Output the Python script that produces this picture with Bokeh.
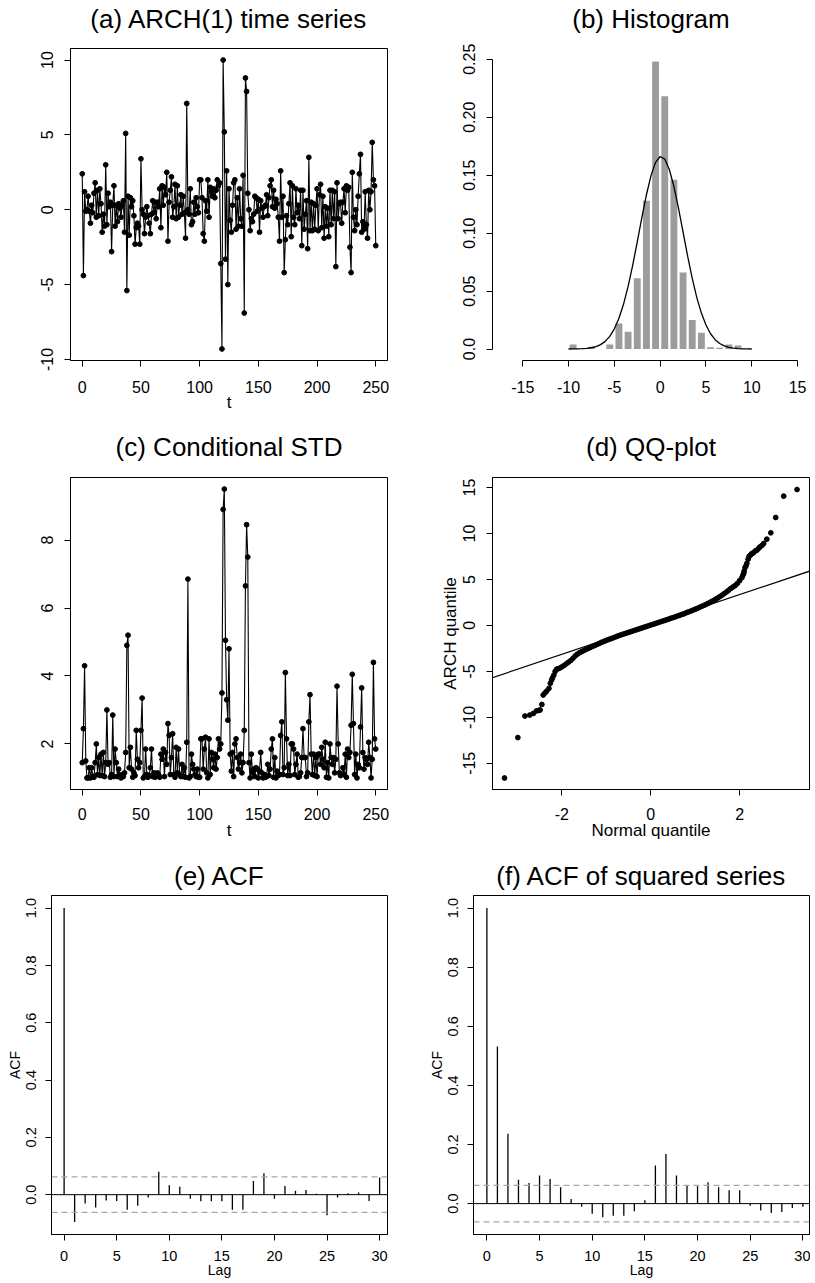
import numpy as np
from bokeh.plotting import figure
from bokeh.layouts import column, row
from bokeh.models import FixedTicker, Range1d, Span, Slope, LinearAxis
from bokeh.embed import file_html
from bokeh.resources import INLINE

FONT = "Liberation Sans"

# ---------------- data ----------------
t_index = list(range(0, 251))

arch_series = [
    2.4, -4.4, 1.2, -0.1, 0.0, 0.9, -0.1, -0.9, 0.3, -0.2,
    1.1, 1.8, -0.5, 1.3, -0.4, 1.4, 0.4, -1.5, -0.3, -1.1,
    3.0, -1.0, 1.1, 0.2, 0.5, -2.8, 0.3, 1.6, -1.1, 0.3,
    -0.8, 0.4, 0.1, -0.5, 0.3, 0.6, -1.5, 5.1, -5.4, 0.9,
    -1.7, 0.8, 0.2, 0.6, -0.4, -2.3, -1.2, -0.9, -1.1, -2.3,
    3.4, 0.0, -0.3, -1.6, -0.5, 0.2, -0.4, -0.9, -1.6, -0.3,
    0.6, -0.2, 0.5, -0.6, 0.5, 0.2, 1.4, -1.2, 1.6, 0.3,
    1.5, 1.0, 2.5, -2.1, 0.5, 1.3, 2.2, -0.5, 0.2, 1.7,
    -0.6, 1.6, -0.5, 0.3, 1.0, -0.3, 0.9, -0.2, -1.9, 7.1,
    0.0, -0.3, 1.4, -1.0, -0.8, 0.5, -0.3, 0.8, 0.2, -0.2,
    2.0, 2.0, 0.8, -1.6, -2.1, 0.6, -0.1, 2.0, -0.5, 1.5,
    1.2, 0.9, 1.4, 0.8, 1.3, 2.0, 1.6, 1.8, -3.6, -9.3,
    10.0, 5.2, -3.3, 2.6, -5.0, 1.4, -0.7, -1.5, 0.3, 1.8,
    2.0, -1.3, 0.8, -1.1, 1.4, -0.6, -1.1, 2.3, -6.9, 8.8,
    7.9, 1.1, 0.0, -1.4, -0.6, -0.8, -0.3, 0.9, 0.8, -0.1,
    0.7, -1.5, 0.6, 0.1, -0.5, 0.2, 0.3, 1.0, -0.4, 0.8,
    1.6, 2.0, 0.2, 1.3, 0.1, 0.7, 0.4, -0.5, -2.1, 2.6,
    -0.5, 0.9, -4.2, -2.0, -0.4, -1.0, 0.4, 1.8, -1.8, 1.6,
    -0.5, -1.0, 1.4, -0.2, 0.3, -0.6, 1.3, -2.4, 1.3, -1.3,
    -0.3, 0.6, -2.6, 3.5, -1.4, 0.5, -1.4, 0.4, -1.3, 0.3,
    1.4, -1.4, 1.0, 1.7, -1.2, 0.9, -1.9, 0.2, -1.1, 0.1,
    -1.8, 1.3, -1.0, 1.3, -0.6, 1.2, -3.8, 1.8, -0.6, 0.4,
    0.5, -0.9, 0.5, 1.4, -0.2, 1.6, 1.3, 1.5, -2.5, -4.2,
    2.5, -0.5, -1.4, 0.0, -1.0, 0.9, 2.4, 3.7, -1.5, -0.8,
    -1.3, 1.2, -1.0, -1.9, 1.3, 0.0, 1.2, 4.5, 2.0, 1.6,
    -2.4,
]

cond_std = [
    1.45, 2.45, 4.3, 1.5, 1.0, 1.0, 1.3, 1.0, 1.3, 1.05,
    1.02, 1.45, 2.0, 1.1, 1.6, 1.07, 1.7, 1.07, 1.75, 1.04,
    1.45, 3.0, 1.4, 1.45, 1.02, 1.1, 2.85, 1.04, 1.85, 1.45,
    1.04, 1.26, 1.07, 1.0, 1.1, 1.04, 1.15, 1.75, 4.9, 5.2,
    1.3, 1.9, 1.26, 1.02, 1.15, 1.07, 2.4, 1.55, 1.3, 1.45,
    2.4, 3.35, 1.0, 1.04, 1.85, 1.1, 1.02, 1.07, 1.3, 1.85,
    1.04, 1.15, 1.02, 1.1, 1.15, 1.1, 1.02, 1.7, 1.55, 1.85,
    1.04, 1.75, 1.4, 2.6, 2.25, 1.1, 1.6, 2.3, 1.1, 1.02,
    1.9, 1.15, 1.85, 1.1, 1.04, 1.4, 1.04, 1.3, 1.02, 2.05,
    6.85, 1.0, 1.04, 1.7, 1.4, 1.26, 1.1, 1.04, 1.26, 1.02,
    1.02, 2.15, 2.15, 1.26, 1.85, 2.2, 1.15, 1.0, 2.15, 1.1,
    1.75, 1.55, 1.3, 1.7, 1.26, 1.6, 2.15, 1.85, 2.0, 3.5,
    8.9, 9.5, 5.05, 3.3, 2.7, 4.8, 1.7, 1.2, 1.75, 1.04,
    2.0, 2.15, 1.6, 1.26, 1.45, 1.7, 1.15, 1.45, 2.4, 6.65,
    8.45, 7.5, 1.45, 1.0, 1.7, 1.15, 1.26, 1.04, 1.3, 1.26,
    1.0, 1.2, 1.75, 1.15, 1.0, 1.1, 1.02, 1.04, 1.4, 1.07,
    1.26, 1.85, 2.15, 1.02, 1.6, 1.0, 1.2, 1.07, 1.1, 2.25,
    2.65, 1.1, 1.3, 4.1, 2.15, 1.07, 1.4, 1.07, 2.0, 2.0,
    1.85, 1.1, 1.4, 1.7, 1.02, 1.04, 1.15, 1.6, 2.45, 1.6,
    1.6, 1.04, 1.15, 2.65, 3.45, 1.7, 1.1, 1.7, 1.07, 1.6,
    1.04, 1.7, 1.7, 1.4, 1.9, 1.55, 1.3, 2.05, 1.02, 1.45,
    1.0, 2.0, 1.6, 1.4, 1.6, 1.15, 1.55, 3.7, 2.0, 1.15,
    1.07, 1.1, 1.3, 1.1, 1.7, 1.02, 1.85, 1.6, 1.75, 2.55,
    4.05, 2.6, 1.1, 1.7, 1.0, 1.4, 1.3, 2.5, 3.65, 1.75,
    1.26, 1.6, 1.55, 1.4, 2.05, 1.6, 1.0, 1.55, 4.4, 2.15,
    1.85,
]

hist_bin_left = [-10, -9, -8, -7, -6, -5, -4, -3, -2, -1, 0, 1, 2, 3, 4, 5, 6, 7, 8, 9]
hist_density = [0.004, 0.0, 0.002, 0.0, 0.004, 0.022, 0.015, 0.061, 0.128, 0.248,
                0.218, 0.146, 0.066, 0.025, 0.014, 0.0015, 0.001, 0.004, 0.003, 0.0]

curve_x = [-10, -9.5, -9, -8.5, -8, -7.5, -7, -6.5, -6, -5.5, -5, -4.5, -4, -3.5, -3,
           -2.5, -2, -1.5, -1, -0.5, 0, 0.5, 1, 1.5, 2, 2.5, 3, 3.5, 4, 4.5, 5, 5.5,
           6, 6.5, 7, 7.5, 8, 8.5, 9, 9.5, 10]
curve_y = [0.00002, 0.00006, 0.00012, 0.00027, 0.00056, 0.0011, 0.0021, 0.0038, 0.0066,
           0.0109, 0.0174, 0.0265, 0.0386, 0.0540, 0.0722, 0.0924, 0.1133, 0.1331, 0.1496,
           0.1611, 0.1661, 0.1639, 0.1549, 0.1402, 0.1215, 0.1008, 0.0801, 0.0609, 0.0444,
           0.0310, 0.0207, 0.0132, 0.0081, 0.0048, 0.0027, 0.0014, 0.0007, 0.0004, 0.0002,
           0.0001, 0.00004]

qq_theoretical = [
    -3.29, -2.99, -2.83, -2.72, -2.64, -2.57, -2.52, -2.49, -2.45, -2.42, -2.38, -2.34,
    -2.29, -2.26, -2.23, -2.21, -2.18, -2.15, -2.12, -2.09, -2.05,
    -2.00, -1.95, -1.90, -1.85, -1.80, -1.75, -1.70, -1.65, -1.60, -1.55, -1.50, -1.45,
    -1.40, -1.35, -1.30, -1.25, -1.20, -1.15, -1.10, -1.05, -1.00, -0.95, -0.90, -0.85,
    -0.80, -0.75, -0.70, -0.65, -0.60, -0.55, -0.50, -0.45, -0.40, -0.35, -0.30, -0.25,
    -0.20, -0.15, -0.10, -0.05, 0.00, 0.05, 0.10, 0.15, 0.20, 0.25, 0.30, 0.35, 0.40,
    0.45, 0.50, 0.55, 0.60, 0.65, 0.70, 0.75, 0.80, 0.85, 0.90, 0.95, 1.00, 1.05, 1.10,
    1.15, 1.20, 1.25, 1.30, 1.35, 1.40, 1.45, 1.50, 1.55, 1.60, 1.65, 1.70, 1.75, 1.80,
    1.85, 1.90, 1.95, 2.00,
    2.05, 2.07, 2.09, 2.10, 2.12, 2.14, 2.16, 2.19, 2.21, 2.24, 2.27, 2.31, 2.35, 2.39,
    2.43, 2.46, 2.50, 2.54, 2.61, 2.70, 2.81, 2.99, 3.29,
]
qq_sample = [
    -16.6, -12.2, -9.86, -9.75, -9.57, -9.3, -9.25, -9.2, -8.6, -7.57, -7.35, -7.14,
    -6.85, -6.3, -5.94, -5.7, -5.4, -5.0, -4.78, -4.72, -4.65,
    -4.52, -4.36, -4.18, -4.00, -3.82, -3.58, -3.32, -3.12, -2.97, -2.84, -2.72, -2.60,
    -2.49, -2.38, -2.27, -2.16, -2.05, -1.94, -1.83, -1.73, -1.63, -1.54, -1.45, -1.36,
    -1.27, -1.17, -1.08, -1.00, -0.92, -0.84, -0.76, -0.68, -0.60, -0.52, -0.44, -0.36,
    -0.28, -0.20, -0.12, -0.04, 0.04, 0.12, 0.20, 0.28, 0.36, 0.44, 0.52, 0.60, 0.68,
    0.77, 0.85, 0.93, 1.02, 1.10, 1.19, 1.27, 1.38, 1.47, 1.56, 1.66, 1.76, 1.86, 1.97,
    2.08, 2.19, 2.30, 2.42, 2.55, 2.68, 2.82, 2.96, 3.12, 3.28, 3.45, 3.63, 3.82, 4.02,
    4.18, 4.35, 4.58, 4.88,
    5.2, 5.45, 5.65, 5.9, 6.3, 6.45, 6.74, 7.2, 7.5, 7.64, 7.8, 7.9, 8.1, 8.19,
    8.4, 8.55, 8.7, 8.91, 9.38, 10.07, 11.74, 14.06, 14.78,
]
qq_line_slope = 1.625
qq_line_intercept = 0.1

acf_lags = list(range(0, 31))
acf_values = [1.0, -0.095, -0.031, -0.045, -0.020, -0.022, -0.053, -0.039, -0.010, 0.080,
              0.033, 0.028, -0.014, -0.023, -0.023, -0.023, -0.053, -0.053, 0.048, 0.075,
              -0.014, 0.030, 0.014, 0.016, 0.003, -0.072, -0.010, 0.005, 0.008, -0.022, 0.060]
acf_sq_values = [1.0, 0.532, 0.236, 0.081, 0.070, 0.095, 0.083, 0.055, 0.016, -0.011,
                 -0.034, -0.046, -0.041, -0.041, -0.026, 0.011, 0.129, 0.168, 0.095, 0.062,
                 0.059, 0.072, 0.055, 0.045, 0.045, -0.007, -0.023, -0.032, -0.028, -0.015, -0.011]
acf_ci = 0.062

# tick labels
ts_x_ticks = [0, 50, 100, 150, 200, 250]
ts_x_labels = ["0", "50", "100", "150", "200", "250"]
arch_y_ticks = [-10, -5, 0, 5, 10]
arch_y_labels = ["-10", "-5", "0", "5", "10"]
hist_x_ticks = [-15, -10, -5, 0, 5, 10, 15]
hist_x_labels = ["-15", "-10", "-5", "0", "5", "10", "15"]
hist_y_ticks = [0.0, 0.05, 0.10, 0.15, 0.20, 0.25]
hist_y_labels = ["0.0", "0.05", "0.10", "0.15", "0.20", "0.25"]
std_y_ticks = [2, 4, 6, 8]
std_y_labels = ["2", "4", "6", "8"]
qq_x_ticks = [-2, 0, 2]
qq_x_labels = ["-2", "0", "2"]
qq_y_ticks = [-15, -10, -5, 0, 5, 10, 15]
qq_y_labels = ["-15", "-10", "-5", "0", "5", "10", "15"]
acf_x_ticks = [0, 5, 10, 15, 20, 25, 30]
acf_x_labels = ["0", "5", "10", "15", "20", "25", "30"]
acf_y_ticks = [0.0, 0.2, 0.4, 0.6, 0.8, 1.0]
acf_y_labels = ["0.0", "0.2", "0.4", "0.6", "0.8", "1.0"]


# ---------------- helpers ----------------
def make_fig(title, fw, fh, left, right, top, bottom, xr, yr, title_gap, outline=True):
    p = figure(frame_width=fw, frame_height=fh, min_border_left=left, min_border_right=right,
               min_border_top=top, min_border_bottom=bottom,
               x_range=Range1d(*xr), y_range=Range1d(*yr),
               output_backend="svg", toolbar_location=None)
    p.title = None
    # panel title rendered as the label of a bare axis above the frame
    tax = LinearAxis(ticker=FixedTicker(ticks=[]), axis_line_color=None,
                     major_tick_out=0, major_tick_in=0, minor_tick_out=0, minor_tick_in=0,
                     major_tick_line_color=None, minor_tick_line_color=None,
                     major_label_standoff=0, major_label_text_font_size="1px",
                     axis_label=title, axis_label_standoff=title_gap,
                     axis_label_text_font=FONT, axis_label_text_font_size="26px",
                     axis_label_text_font_style="normal", axis_label_text_color="black")
    p.add_layout(tax, "above")
    p.xgrid.visible = False
    p.ygrid.visible = False
    p.background_fill_color = "white"
    p.border_fill_color = "white"
    if outline:
        p.outline_line_color = "black"
        p.outline_line_width = 1
        p.outline_line_alpha = 1.0
    else:
        p.outline_line_color = None
    return p


def style_axes(p, xt, xl, yt, yl, tick_fs, lab_fs, xlabel=None, ylabel=None,
               x_std=12, y_std=11, x_lstd=-2, y_lstd=0):
    xa = p.below[0]
    ya = p.left[0]
    for ax in (xa, ya):
        ax.axis_line_color = "black"
        ax.axis_line_width = 1
        ax.major_tick_line_color = "black"
        ax.major_tick_line_width = 1
        ax.major_tick_out = 6
        ax.major_tick_in = 0
        ax.minor_tick_line_color = None
        ax.major_label_text_font = FONT
        ax.major_label_text_font_size = tick_fs
        ax.major_label_text_color = "black"
        ax.axis_label_text_font = FONT
        ax.axis_label_text_font_size = lab_fs
        ax.axis_label_text_font_style = "normal"
        ax.axis_label_text_color = "black"
    xa.ticker = FixedTicker(ticks=xt)
    ya.ticker = FixedTicker(ticks=yt)
    xa.major_label_overrides = {v: s for v, s in zip(xt, xl)}
    ya.major_label_overrides = {v: s for v, s in zip(yt, yl)}
    ya.major_label_orientation = "vertical"
    xa.major_label_standoff = x_std
    ya.major_label_standoff = y_std
    xa.axis_label_standoff = x_lstd
    ya.axis_label_standoff = y_lstd
    if xlabel:
        xa.axis_label = xlabel
    if ylabel:
        ya.axis_label = ylabel


# ---------------- (a) ----------------
pa = make_fig("(a) ARCH(1) time series", 317, 312, 70, 21, 47, 61,
              (-10, 260), (-10.07, 10.77), 15)
pa.line(t_index, arch_series, line_color="black", line_width=1.1)
pa.scatter(t_index, arch_series, size=4.8, color="black")
style_axes(pa, ts_x_ticks, ts_x_labels, arch_y_ticks, arch_y_labels, "16px", "17px",
           xlabel="t", x_std=14, x_lstd=-3)

# ---------------- (b) ----------------
pb = make_fig("(b) Histogram", 317, 312, 84, 1, 47, 61,
              (-18.3, 16.3), (-0.0099, 0.2593), 15, outline=False)
bin_centers = [b + 0.5 for b in hist_bin_left]
pb.vbar(x=bin_centers, top=hist_density, bottom=0, width=0.75,
        fill_color="#9c9c9c", line_color=None)
pb.line(curve_x, curve_y, line_color="black", line_width=1.3)
style_axes(pb, hist_x_ticks, hist_x_labels, hist_y_ticks, hist_y_labels, "16px", "17px",
           x_std=14)
pb.below[0].bounds = (-15, 15)
pb.left[0].bounds = (0, 0.25)

# ---------------- (c) ----------------
pc = make_fig("(c) Conditional STD", 317, 312, 70, 21, 56, 67,
              (-10, 260), (0.66, 9.84), 16)
pc.line(t_index, cond_std, line_color="black", line_width=1.1)
pc.scatter(t_index, cond_std, size=4.8, color="black")
style_axes(pc, ts_x_ticks, ts_x_labels, std_y_ticks, std_y_labels, "16px", "17px", xlabel="t")

# ---------------- (d) ----------------
pd_ = make_fig("(d) QQ-plot", 317, 312, 84, 1, 56, 67,
               (-3.56, 3.57), (-17.85, 16.09), 16)
pd_.scatter(qq_theoretical, qq_sample, size=4.8, color="black")
pd_.add_layout(Slope(gradient=qq_line_slope, y_intercept=qq_line_intercept,
                     line_color="black", line_width=1.2))
style_axes(pd_, qq_x_ticks, qq_x_labels, qq_y_ticks, qq_y_labels, "16px", "17px",
           xlabel="Normal quantile", ylabel="ARCH quantile", y_lstd=1)


# ---------------- (e), (f) ----------------
def acf_fig(title, vals, left, right, yr, xr):
    p = make_fig(title, 336, 339, left, right, 39, 49, xr, yr, 5)
    p.add_layout(Span(location=0, dimension="width", line_color="black", line_width=1))
    for c in (acf_ci, -acf_ci):
        p.add_layout(Span(location=c, dimension="width", line_color="#a6a6a6",
                          line_width=1.3, line_dash="6 4"))
    p.segment(x0=acf_lags, y0=[0] * len(acf_lags), x1=acf_lags, y1=vals,
              line_color="black", line_width=1.3)
    style_axes(p, acf_x_ticks, acf_x_labels, acf_y_ticks, acf_y_labels, "14.5px", "14px",
               xlabel="Lag", ylabel="ACF", x_std=10, y_std=9, x_lstd=-2, y_lstd=1)
    return p


pe = acf_fig("(e) ACF", acf_values, 51, 21, (-0.139, 1.044), (-1.2, 30.75))
pf = acf_fig("(f) ACF of squared series", acf_sq_values, 65, 1, (-0.1045, 1.0425), (-1.27, 30.63))

layout = column(row(pa, pb), row(pc, pd_), row(pe, pf))

with open("out.html", "w") as f:
    f.write(file_html(layout, INLINE))
